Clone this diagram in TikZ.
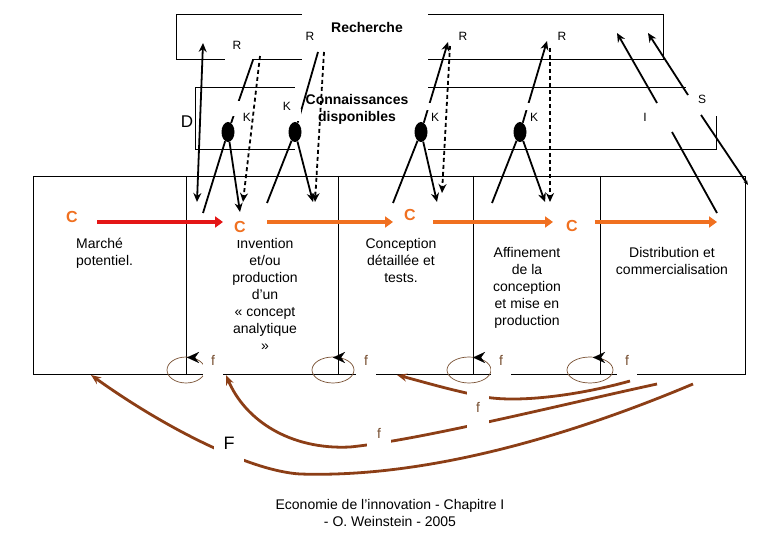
\documentclass[tikz,border=0pt]{standalone}
\usepackage{fontspec}
\setmainfont{Liberation Sans}
\usetikzlibrary{arrows.meta, shapes.geometric}
\definecolor{RougeC}{RGB}{228,22,22}
\definecolor{OrangeC}{RGB}{240,112,32}
\definecolor{BrunF}{RGB}{140,62,22}
\definecolor{BrunBoucle}{RGB}{120,80,50}

\tikzset{
  cadre/.style={draw=black, line width=0.9pt},
  txt/.style={font=\fontsize{14}{17}\selectfont, align=center, inner sep=0pt},
  titre/.style={font=\bfseries\fontsize{14}{17}\selectfont, align=center, inner sep=0pt},
  lettre/.style={font=\fontsize{12}{14}\selectfont, inner sep=0pt},
  grande/.style={font=\fontsize{17}{20}\selectfont, inner sep=0pt},
  clbl/.style={font=\bfseries\fontsize{16}{18}\selectfont, text=OrangeC, inner sep=0pt},
  flbl/.style={font=\fontsize{14}{16}\selectfont, text=BrunBoucle, fill=white, inner sep=0pt},
  pastille/.style={ellipse, fill=black, minimum width=13pt, minimum height=20pt, inner sep=0pt},
  trait/.style={line width=1.8pt},
  fleche/.style={line width=1.8pt, -{Stealth[length=9pt,width=8pt]}},
  tirets/.style={line width=1.8pt, dash pattern=on 4pt off 3pt, -{Stealth[length=9pt,width=8pt]}},
  chaine/.style={line width=4.5pt, -{Triangle[length=8pt,width=11pt]}},
  retour/.style={line width=2.8pt, BrunF, -{Stealth[length=10pt,width=8pt]}},
  boucle/.style={draw=BrunBoucle, line width=0.7pt},
  pointe/.style={line width=0.1pt, -{Stealth[length=12pt,width=11pt]}}
}

\begin{document}
\begin{tikzpicture}[x=1pt, y=-1pt]
  \useasboundingbox (0,0) rectangle (780,540);

  % 框
  \draw[cadre] (176,14) rectangle (663,59);
  \draw[cadre] (195,87) rectangle (716,149);
  \draw[cadre] (33,176) rectangle (745,374);
  \foreach \xd in {186,338,473,600}
    \draw[cadre] (\xd,176) -- (\xd,374);

  % 标签底色
  \fill[white] (302,8) rectangle (428,64);
  \fill[white] (295,80) rectangle (428,156);
  \fill[white] (224.5,30) rectangle (251.5,62);
  \fill[white] (686,82) rectangle (718,116);

  % 回路
  \draw[boucle] (186,370) ellipse [x radius=19, y radius=13];
  \draw[boucle] (333,370) ellipse [x radius=21, y radius=13];
  \draw[boucle] (469,370) ellipse [x radius=22, y radius=13];
  \draw[boucle] (590,370) ellipse [x radius=23, y radius=13];
  \foreach \xp in {187,333,473,593}
    \draw[pointe] (\xp+0.5,357.5) -- (\xp,357.5);
  \node[flbl, minimum width=20pt, minimum height=32pt] (f1) at (213,360) {f};
  \node[flbl, minimum width=20pt, minimum height=32pt] (f2) at (366,360) {f};
  \node[flbl, minimum width=20pt, minimum height=32pt] (f3) at (501,360) {f};
  \node[flbl, minimum width=20pt, minimum height=32pt] (f4) at (627,360) {f};

  % 知识点
  \node[pastille] (kA) at (228,132) {};
  \node[pastille] (kB) at (295,132) {};
  \node[pastille] (kC) at (421,132) {};
  \node[pastille] (kD) at (520,132) {};

  % 端点
  \coordinate (dH) at (203,43);
  \coordinate (dB) at (197,202);
  \coordinate (aBas) at (203,213);
  \coordinate (aC) at (240,212);
  \coordinate (aR) at (253,60);
  \coordinate (aRt) at (260,56);
  \coordinate (aCt) at (243,202);
  \coordinate (bBas) at (267,203);
  \coordinate (bC) at (313,202);
  \coordinate (bR) at (318,52);
  \coordinate (bRt) at (324,52);
  \coordinate (bCt) at (315,202);
  \coordinate (cBas) at (393,203);
  \coordinate (cC) at (437,202);
  \coordinate (cR) at (448,42);
  \coordinate (cRt) at (450,46);
  \coordinate (cCt) at (442,193);
  \coordinate (eBas) at (492,203);
  \coordinate (eC) at (545,202);
  \coordinate (eR) at (547,41);
  \coordinate (eRt) at (550,48);
  \coordinate (eCt) at (550,202);

  % D
  \draw[line width=1.8pt, {Stealth[length=9pt,width=8pt]}-{Stealth[length=9pt,width=8pt]}] (dH) -- (dB);

  % K -- R -- C
  \draw[trait] (aBas) -- (kA);
  \draw[fleche] (kA) -- (aC);
  \draw[trait] (kA) -- (aR);
  \draw[tirets] (aRt) -- (aCt);

  \draw[trait] (bBas) -- (kB);
  \draw[fleche] (kB) -- (bC);
  \draw[trait] (kB) -- (bR);
  \draw[tirets] (bRt) -- (bCt);

  \draw[trait] (cBas) -- (kC);
  \draw[fleche] (kC) -- (cC);
  \draw[fleche] (kC) -- (cR);
  \draw[tirets] (cRt) -- (cCt);

  \draw[trait] (eBas) -- (kD);
  \draw[fleche] (kD) -- (eC);
  \draw[fleche] (kD) -- (eR);
  \draw[tirets] (eRt) -- (eCt);

  % K 标签底色
  \fill[white] (231,101) rectangle (249,116);
  \fill[white] (280,109) rectangle (301,121);
  \fill[white] (423,103) rectangle (431,110);
  \fill[white] (522,103) rectangle (530,110);

  % I 与 S
  \coordinate (iBas) at (657,103);
  \coordinate (iHaut) at (617,33);
  \coordinate (sBas) at (688,95);
  \coordinate (sHaut) at (648,33);
  \coordinate (iDist) at (717,213);
  \coordinate (iDep) at (672,132);
  \coordinate (sDep) at (701,115);
  \coordinate (sFin) at (748,185);
  \draw[fleche] (iBas) -- (iHaut);
  \draw[fleche] (sBas) -- (sHaut);
  \draw[trait] (iDep) -- (iDist);
  \draw[line width=1.8pt, -{Stealth[length=5pt,width=4pt]}] (sDep) -- (sFin);

  % 主链
  \coordinate (m0) at (97,222);
  \coordinate (m1) at (223,222);
  \coordinate (m2) at (267,222);
  \coordinate (m3) at (393,222);
  \coordinate (m4) at (433,222);
  \coordinate (m5) at (553,222);
  \coordinate (m6) at (595,222);
  \coordinate (m7) at (717,222);
  \draw[chaine, RougeC] (m0) -- (m1);
  \draw[chaine, OrangeC] (m2) -- (m3);
  \draw[chaine, OrangeC] (m4) -- (m5);
  \draw[chaine, OrangeC] (m6) -- (m7);

  % 反馈
  \coordinate (rA) at (693,384);
  \coordinate (pA) at (91,375);
  \coordinate (rB) at (657,384);
  \coordinate (pB) at (226,375);
  \coordinate (rC) at (630,381);
  \coordinate (pC) at (397,375);
  \draw[retour] (rA) .. controls (560,440) and (420,478) .. (300,474)
    .. controls (250,471) and (165,428) .. (pA);
  \draw[retour] (rB) .. controls (560,405) and (420,440) .. (350,447)
    .. controls (290,450) and (245,420) .. (pB);
  \draw[retour] (rC) .. controls (580,395) and (520,403) .. (485,397)
    .. controls (450,390) and (420,381) .. (pC);
  \node[flbl, text=black, font=\fontsize{18}{20}\selectfont, minimum width=30pt, minimum height=48pt] (F) at (229,443) {F};
  \node[flbl, minimum width=24pt, minimum height=30pt] (f5) at (379,433) {f};
  \node[flbl, minimum width=22pt, minimum height=46pt] (f6) at (478,407) {f};

  % 文字
  \node[titre] (rech) at (367,27) {Recherche};
  \node[titre, anchor=north] (conn) at (357,94) {Connaissances\\disponibles};
  \node[lettre] (R1) at (237,45) {R};
  \node[lettre] (R2) at (310,36) {R};
  \node[lettre] (R3) at (463,36) {R};
  \node[lettre] (R4) at (562,36) {R};
  \node[lettre] (K1) at (247,117) {K};
  \node[lettre] (K2) at (287,106) {K};
  \node[lettre] (K3) at (435,117) {K};
  \node[lettre] (K4) at (534,117) {K};
  \node[lettre] (I) at (645,117) {I};
  \node[lettre] (S) at (702,99) {S};
  \node[grande] (D) at (187,122) {D};

  \node[txt, anchor=north west, align=left] (marche) at (76,237.5) {Marché\\potentiel.};
  \node[txt, anchor=north] (invention) at (265,238) {Invention\\et/ou\\production\\d'un\\« concept\\analytique\\»};
  \node[txt, anchor=north] (conception) at (401,238) {Conception\\détaillée et\\tests.};
  \node[txt, anchor=north] (affinement) at (527,247) {Affinement\\de la\\conception\\et mise en\\production};
  \node[txt, anchor=north] (distribution) at (672,247) {Distribution et\\commercialisation};

  \node[clbl] (C1) at (72,217) {C};
  \node[clbl, fill=white, minimum width=30pt, minimum height=27pt] (C2) at (240,227) {C};
  \node[clbl] (C3) at (410,215) {C};
  \node[clbl] (C4) at (572,226) {C};

  % 页脚
  \node[txt, anchor=north, font=\fontsize{14}{16.5}\selectfont] (pied) at (390,499.5) {Economie de l'innovation - Chapitre I\\- O. Weinstein - 2005};
\end{tikzpicture}
\end{document}
